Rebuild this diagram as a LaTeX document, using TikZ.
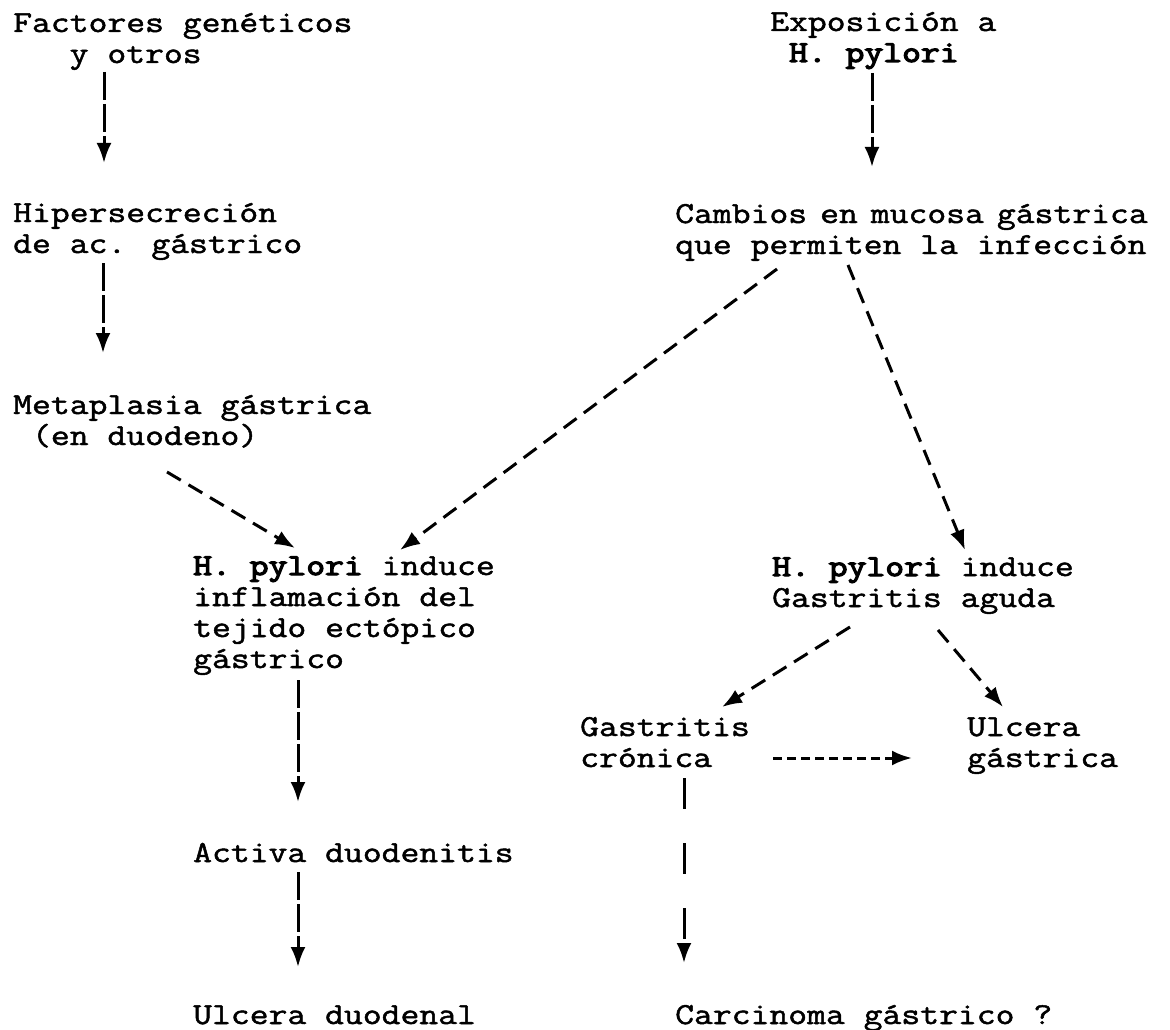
\documentclass[tikz,border=0pt]{standalone}
\usepackage{fontspec}
\newfontfamily\typer{Latin Modern Mono}[FakeStretch=1.2,FakeBold=1.6,AutoFakeBold=4]
\usetikzlibrary{arrows.meta,calc}
\tikzset{
  txt/.style={anchor=base west, inner sep=0pt, align=left, font=\typer\fontsize{30.5pt}{31pt}\selectfont},
  arr/.style={line width=3pt, -{Latex[length=20pt,width=15pt]}},
  vdash/.style={arr, dash pattern=on 28pt off 4pt},
  ddash/.style={arr, dash pattern=on 16pt off 9pt},
  hdash/.style={arr, dash pattern=on 9pt off 5pt},
  gapdash/.style={arr, dash pattern=on 31pt off 34pt}
}
\begin{document}
\begin{tikzpicture}[x=1pt,y=-1pt,every node/.style={txt}]
\useasboundingbox (0,0) rectangle (1170,1030);
% left column (nodes sit on the baseline of their last line)
\node at (13,63) (fact) {Factores genéticos\\\phantom{xxx}y otros};
\node at (13,253) (hiper) {Hipersecreción\\de ac. gástrico};
\node at (13,445) (meta) {Metaplasia gástrica\\\phantom{x}(en duodeno)};
\node at (193,668) (hpa) {\textbf{H. pylori} induce\\inflamación del\\tejido ectópico\\gástrico};
\node at (193,862) (activ) {Activa duodenitis}; \node at (193,1024) (ulcd) {Ulcera duodenal};
% right column
\node at (770,62) (expo) {Exposición a\\\phantom{x}\textbf{H. pylori}};
\node at (675,254) (camb) {Cambios\hspace{13pt}en\hspace{13pt}mucosa\hspace{13pt}gástrica\\que permiten la infección};
\node at (772,607) (hpb) {\textbf{H. pylori} induce\\Gastritis aguda};
\node at (580,767) (gcron) {Gastritis\\crónica}; \node at (967,767) (ulcg) {Ulcera\\gástrica};
\node at (675,1024) (carc) {Carcinoma gástrico ?};

\draw[vdash] ($(fact.base west)+(91,9)$) -- ($(hiper.base west)+(91,-90)$);
\draw[vdash] ($(hiper.base west)+(90,10)$) -- ($(meta.base west)+(90,-92)$);
\draw[vdash] ($(expo.base west)+(102,11)$) -- ($(camb.base west)+(197,-87)$);
\draw[ddash] ($(meta.base west)+(154,27)$) -- ($(hpa.base west)+(102,-120)$);
\draw[ddash] ($(camb.base west)+(102,15)$) -- ($(hpa.base west)+(207,-118)$);
\draw[ddash] ($(camb.base west)+(173,11)$) -- ($(hpb.base west)+(193,-57)$);
\draw[ddash] ($(hpb.base west)+(78,20)$) -- ($(gcron.base west)+(142,-60)$);
\draw[ddash] ($(hpb.base west)+(166,23)$) -- ($(ulcg.base west)+(36,-60)$);
\draw[hdash] ($(gcron.base west)+(193,-9)$) -- ($(ulcg.base west)+(-55,-9)$);
\draw[vdash] ($(hpa.base west)+(105,12)$) -- ($(activ.base west)+(105,-60)$);
\draw[vdash] ($(activ.base west)+(105,10)$) -- ($(ulcd.base west)+(105,-57)$);
\draw[gapdash] ($(gcron.base west)+(104,11)$) -- ($(carc.base west)+(9,-61)$);
\end{tikzpicture}
\end{document}
